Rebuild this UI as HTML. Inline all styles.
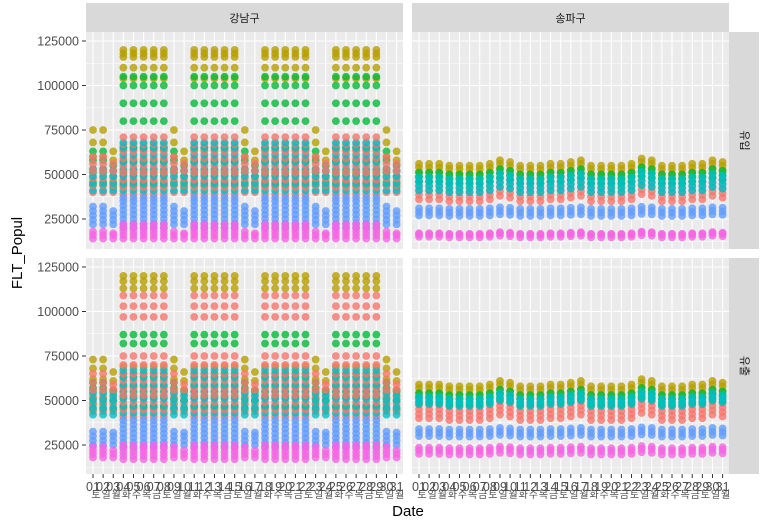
<!DOCTYPE html>
<html><head><meta charset="utf-8"><style>
body{margin:0;background:#fff;}
svg{display:block;font-family:"Liberation Sans","Noto Sans CJK KR",sans-serif;}
</style></head><body>
<svg id="chart" width="779" height="520" viewBox="0 0 779 520" xmlns="http://www.w3.org/2000/svg"></svg>
<script>
// ---- data ----
const districts = ["강남구","송파구"];
const directions = ["유입","유출"];
const yTicks = [25000,50000,75000,100000,125000];
const days = ["01","02","03","04","05","06","07","08","09","10","11","12","13","14","15","16","17","18","19","20","21","22","23","24","25","26","27","28","29","30","31"];
const dayNames = ["토","일","월","화","수","목","금","토","일","월","화","수","목","금","토","일","월","화","수","목","금","토","일","월","화","수","목","금","토","일","월"];
const dayType = ["S","S","L","H","H","H","H","H","S","L","H","H","H","H","H","S","L","H","H","H","H","H","S","L","H","H","H","H","H","S","L"];
// groups: [yellow, green, red, cyan, blue, pink]
const groupColors = ["#B79F00","#00BA38","#F8766D","#00BFC4","#619CFF","#F564E3"];
// values in thousands
const gnInH = [[46,52,58,64,104,110,116,118,120],[44,50,57,65,80,90,100,105],[39,43,47,51,55,59,63,67,71],[41,45,49,53,57,61,65,68],[20,22.5,25,27.5,30,32.5,35,37],[14,16,18,20,22]];
const gnInS = [[46,53,60,68,75],[44,51,58,63],[40,44,48,52,56,60],[41,45,49,53],[22,24.5,27,29.5,32],[14,16,18]];
const gnInL = [[46,52,58,63],[43,49,55],[40,44,48,52,56],[41,45,49,52],[22,24.5,27,29.5],[14,16,17]];
const gnOutH = [[47,55,63,69,113,117,120],[46,52,58,65,82,87],[41,45,49,53,57,61,65,70,75,97,103,109],[43,47,51,55,59,63,67],[24,26.5,29,31.5,34,36.5,39],[17,19,21,23,25]];
const gnOutS = [[48,55,62,68,73],[45,51,57,60],[44,48,52,56,60,65],[42,46,50,54],[25,27.5,30,32.5],[18,20,22,24]];
const gnOutL = [[50,56,61,66],[45,50,55],[44,48,52,56,59],[42,46,50,53],[25,27.5,30,32],[18,20,22]];
const spInLvl = [[49,51.5,54,56],[46,48.5,51],[36,38.5,41,43.5,46],[41,43.5,46,48.5],[27,29,31],[15,16.5,17]];
const spOutLvl = [[52,54.5,57,59],[49,51.5,54],[40,42.5,45,47.5],[48,50,52],[30,32,34],[20,22,23.5]];
const spShift = [0,0,0,-1,-1,-1,-1,0,2,1,-1,-1,-1,0,0,1,2,-1,-1,-1,-1,0,3,2,-1,-1,-1,0,0,2,1];

const svg = document.getElementById('chart');
const NS = "http://www.w3.org/2000/svg";
function mk(tag, attrs, parent){const e=document.createElementNS(NS,tag);for(const k in attrs)e.setAttribute(k,attrs[k]);(parent||svg).appendChild(e);return e;}

const panelsX = [{x0:86,x1:403},{x0:412,x1:729}];
const panelsY = [{y0:32,y1:249,ref:219},{y0:258,y1:474,ref:445}];
const pxPerK = 1.78;
function yScale(row,vK){return panelsY[row].ref-(vK-25)*pxPerK;}
function xScale(col,i){return panelsX[col].x0+7+i*10.12;}

districts.forEach((d,c)=>{
  const r=mk('rect',{x:panelsX[c].x0,y:3,width:panelsX[c].x1-panelsX[c].x0,height:29,fill:'#D9D9D9'});
  
  
  const t=mk('text',{x:(panelsX[c].x0+panelsX[c].x1)/2,y:22,'text-anchor':'middle','font-size':11,fill:'#1a1a1a'});
  t.textContent=d;
  
  
});
directions.forEach((d,r)=>{
  const rc=mk('rect',{x:729,y:panelsY[r].y0,width:30,height:panelsY[r].y1-panelsY[r].y0,fill:'#D9D9D9'});
  
  
  const cy=(panelsY[r].y0+panelsY[r].y1)/2;
  const t=mk('text',{x:744,y:cy,'text-anchor':'middle','font-size':11,fill:'#1a1a1a',transform:`rotate(90 744 ${cy})`,'dominant-baseline':'middle'});
  t.textContent=d;
  
  
});

for(let r=0;r<2;r++){for(let c=0;c<2;c++){
  const P=panelsX[c],Q=panelsY[r];
  const bg=mk('rect',{x:P.x0,y:Q.y0,width:P.x1-P.x0,height:Q.y1-Q.y0,fill:'#EBEBEB'});
  
  
  [12.5,37.5,62.5,87.5,112.5].forEach(v=>{const y=yScale(r,v);if(y>Q.y0&&y<Q.y1){const l=mk('line',{x1:P.x0,x2:P.x1,y1:y,y2:y,stroke:'#fff','stroke-width':0.55});}});
  yTicks.forEach(v=>{const y=yScale(r,v/1000);const l=mk('line',{x1:P.x0,x2:P.x1,y1:y,y2:y,stroke:'#fff','stroke-width':1.1});});
  days.forEach((d,i)=>{const x=xScale(c,i);const l=mk('line',{x1:x,x2:x,y1:Q.y0,y2:Q.y1,stroke:'#fff','stroke-width':1.1});});
}}

function levelsFor(r,c,i,g){
  if(c===0){
    const t=dayType[i];
    const set = r===0 ? (t==='H'?gnInH:t==='S'?gnInS:gnInL) : (t==='H'?gnOutH:t==='S'?gnOutS:gnOutL);
    return set[g];
  }
  const set = r===0?spInLvl:spOutLvl;
  return set[g].map(v=>v+(g<4?spShift[i]:spShift[i]*0.3));
}
function dot(parent,x,y,g){
  const p=mk('circle',{cx:x,cy:y,r:3.9,fill:groupColors[g],'fill-opacity':0.8},parent);
  
  
}
for(let r=0;r<2;r++){for(let c=0;c<2;c++){
  const g0=mk('g',{});
  
  
  days.forEach((d,i)=>{
    const lv=[0,1,2,3,4,5].map(g=>levelsFor(r,c,i,g));
    const x=xScale(c,i);
    if(c===1){
      [2,0,1,3,4,5].forEach(g=>lv[g].forEach(v=>dot(g0,x,yScale(r,v),g)));
      return;
    }
    const maxLen=Math.max(...lv.map(a=>a.length));
    for(let k=0;k<maxLen;k++){
      for(let gg=0;gg<6;gg++){
        const g=(gg+k)%6;
        if(k>=lv[g].length)continue;
        const y=yScale(r,lv[g][k]);
        if(y<panelsY[r].y0+3)continue;
        dot(g0,x,y,g);
      }
    }
  });
}}

for(let r=0;r<2;r++){
  yTicks.forEach(v=>{
    const y=yScale(r,v/1000);
    const tk=mk('line',{x1:82,x2:86,y1:y,y2:y,stroke:'#333','stroke-width':1});
    
    const t=mk('text',{x:79,y:y+4.5,'text-anchor':'end','font-size':12.5,fill:'#4D4D4D'});
    t.textContent=v;
    
    
  });
}
for(let c=0;c<2;c++){
  days.forEach((d,i)=>{
    const x=xScale(c,i);
    const tk=mk('line',{x1:x,x2:x,y1:474,y2:478,stroke:'#333','stroke-width':1});
    
    const t=mk('text',{x:x,y:491,'text-anchor':'middle','font-size':12.5,fill:'#4D4D4D'});
    t.textContent=d;
    
    
    const t2=mk('text',{x:x+3,y:498,'text-anchor':'middle','font-size':10,fill:'#4D4D4D'});
    t2.textContent=dayNames[i];
    
    
  });
}
const xt=mk('text',{x:408,y:516,'text-anchor':'middle','font-size':15,fill:'#000'});
xt.textContent='Date';

const yt=mk('text',{x:22,y:253,'text-anchor':'middle','font-size':15,fill:'#000',transform:'rotate(-90 22 253)'});
yt.textContent='FLT_Popul';

</script>
</body></html>
